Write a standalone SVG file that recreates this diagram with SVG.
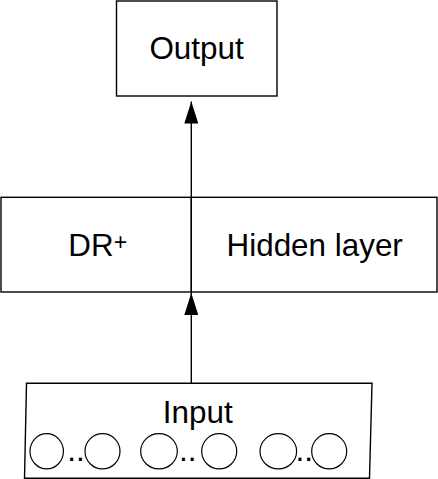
<svg xmlns="http://www.w3.org/2000/svg" width="438" height="479" viewBox="0 0 438 479">
  <style>
    .box { fill: #ffffff; stroke: #000000; stroke-width: 1.4; }
    .lbl { font-family: "Liberation Sans", Arial, sans-serif; font-size: 31.4px; fill: #000000; }
    .mid { text-anchor: middle; }
    .unit { fill: none; stroke: #000000; stroke-width: 1.2; }
    .edge { stroke: #000000; stroke-width: 1.4; fill: none; }
  </style>
  <defs>
    <marker id="arrow" markerUnits="userSpaceOnUse" markerWidth="22" markerHeight="14" refX="22" refY="7" orient="auto" viewBox="0 0 22 14">
      <polygon points="0,0 22,7 0,14" fill="#000000"/>
    </marker>
  </defs>
  <rect width="438" height="479" fill="#ffffff"/>

  <g id="output">
    <rect class="box" x="116.5" y="1" width="160.5" height="95"/>
    <text class="lbl mid" x="196.5" y="59">Output</text>
  </g>

  <g id="dr-plus">
    <rect class="box" x="1" y="197.3" width="190.3" height="94.7"/>
    <text class="lbl" x="68.3" y="256">DR<tspan font-size="23" dy="-6">+</tspan></text>
  </g>

  <g id="hidden-layer">
    <rect class="box" x="191.3" y="197.3" width="245.7" height="94.7"/>
    <text class="lbl mid" x="314.7" y="256">Hidden layer</text>
  </g>

  <g id="input">
    <polygon class="box" points="26.5,383.3 372,383.3 369.5,478.3 24.5,478.3"/>
    <text class="lbl mid" x="197.7" y="423.3">Input</text>
    <ellipse class="unit" cx="46.7" cy="451.3" rx="16.7" ry="17.6"/>
    <text class="lbl" x="67.3" y="461">..</text>
    <ellipse class="unit" cx="102.5" cy="451.3" rx="17.5" ry="17.6"/>
    <ellipse class="unit" cx="159" cy="451.3" rx="18.3" ry="17.6"/>
    <text class="lbl" x="179" y="461">..</text>
    <ellipse class="unit" cx="219.2" cy="451.3" rx="17.5" ry="17.6"/>
    <ellipse class="unit" cx="278.3" cy="451.3" rx="18.3" ry="17.6"/>
    <text class="lbl" x="295.5" y="461">..</text>
    <ellipse class="unit" cx="329.2" cy="451.3" rx="17.5" ry="17.6"/>
  </g>

  <g id="connectors">
    <line class="edge" x1="191.3" y1="197.3" x2="191.3" y2="101.5" marker-end="url(#arrow)"/>
    <line class="edge" x1="191.3" y1="383.3" x2="191.3" y2="293" marker-end="url(#arrow)"/>
  </g>
</svg>
